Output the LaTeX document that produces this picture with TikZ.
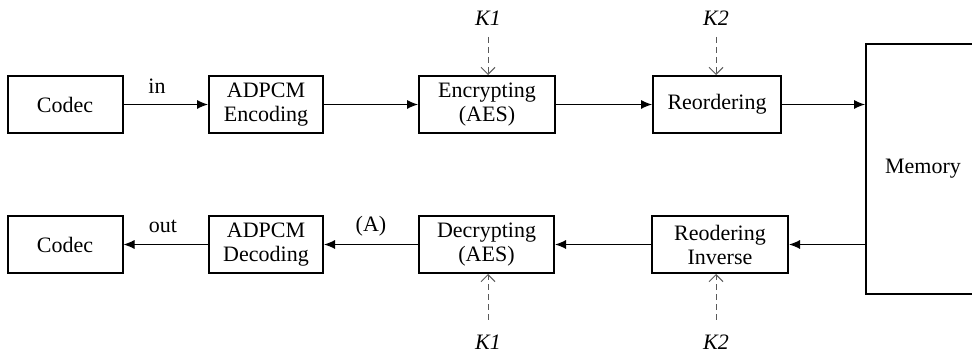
\documentclass[tikz,border=0pt]{standalone}
\usepackage{fontspec}
\setmainfont{Liberation Serif}
\usetikzlibrary{arrows.meta}
\tikzset{
  blk/.style={draw,line width=1pt,inner sep=0pt,minimum height=28.5pt,align=center},
  flow/.style={-{Latex[length=5.5pt,width=4.5pt]},line width=0.5pt},
  keyline/.style={-{Straight Barb[length=3.5pt,width=7pt]},dashed,dash pattern=on 3pt off 2pt,gray!70!black,line width=0.5pt}
}
\begin{document}
\begin{tikzpicture}[x=0.5pt,y=0.5pt,font=\fontsize{11}{12}\selectfont]
\useasboundingbox (0,0) rectangle (972,352);
% upper row
\node[blk,minimum width=57.5pt] (codecin) at (65,247.5) {Codec};
\node[blk,minimum width=57pt] (enc) at (266,247.5) {ADPCM\\Encoding};
\node[blk,minimum width=68pt] (aes) at (487,247.5) {Encrypting\\(AES)};
\node[blk,minimum width=64pt] (reord) at (717,247.5) {Reordering};
% memory
\node[blk,minimum width=57pt,minimum height=125pt] (mem) at (923,183) {Memory};
% lower row
\node[blk,minimum width=57.5pt] (codecout) at (65,107.5) {Codec};
\node[blk,minimum width=57pt] (dec) at (266,107.5) {ADPCM\\Decoding};
\node[blk,minimum width=67.5pt] (daes) at (486.5,107.5) {Decrypting\\(AES)};
\node[blk,minimum width=68pt] (reinv) at (720,107.5) {Reodering\\Inverse};
% keys
\node[] (k1a) at (488,334) {\textit{K1}};
\node[] (k2a) at (716,334) {\textit{K2}};
\node[] (k1b) at (488,10) {\textit{K1}};
\node[] (k2b) at (716,10) {\textit{K2}};
\coordinate (k1at) at (488,315);
\coordinate (k2at) at (716,315);
\coordinate (k1bt) at (488,32);
\coordinate (k2bt) at (716,32);
% labels
\node[] (lin) at (157,266) {in};
\node[] (lout) at (163,126) {out};
\node[] (la) at (371,126) {(A)};
% connectors
\draw[flow] (codecin) -- (enc);
\draw[flow] (enc) -- (aes);
\draw[flow] (aes) -- (reord);
\draw[flow] (reord.east) -- (reord.east -| mem.west);
\draw[flow] (reinv.east -| mem.west) -- (reinv.east);
\draw[flow] (reinv) -- (daes);
\draw[flow] (daes) -- (dec);
\draw[flow] (dec) -- (codecout);
\draw[keyline] (k1at) -- (aes.north -| k1at);
\draw[keyline] (k2at) -- (reord.north -| k2at);
\draw[keyline] (k1bt) -- (daes.south -| k1bt);
\draw[keyline] (k2bt) -- (reinv.south -| k2bt);
\end{tikzpicture}
\end{document}
